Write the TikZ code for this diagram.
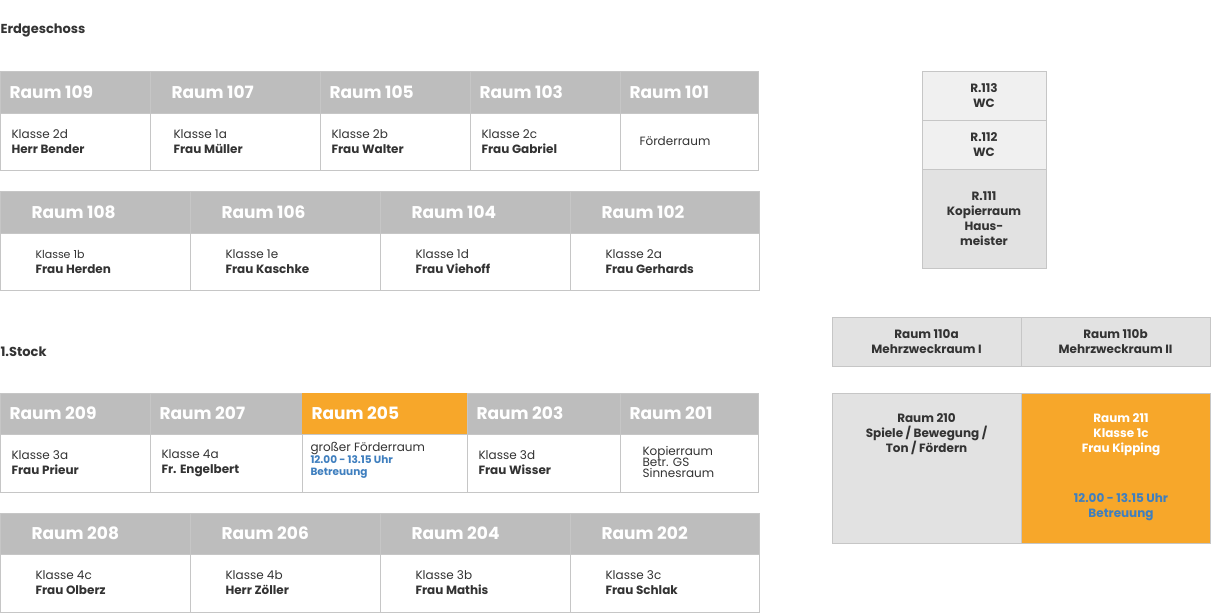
\documentclass[tikz,border=0pt]{standalone}
\usepackage{fontspec}
\setmainfont{Poppins}
\definecolor{kopf}{HTML}{BDBDBD}
\definecolor{rand}{HTML}{C6C6C6}
\definecolor{orange}{HTML}{F7A72A}
\definecolor{hell}{HTML}{E2E2E2}
\definecolor{hellwc}{HTML}{F0F0F0}
\definecolor{blau}{HTML}{3F7FBF}
\definecolor{text}{HTML}{333333}
\tikzset{
  kopfzeile/.style={fill=kopf,draw=rand,line width=0.8pt},
  zelle/.style={fill=white,draw=rand,line width=0.8pt},
  kopftext/.style={anchor=west,text=white,font=\fontsize{17}{19}\selectfont\bfseries},
  zelltext/.style={anchor=west,text=text,align=left,font=\fontsize{12}{15}\selectfont},
  block/.style={draw=rand,line width=0.8pt,text=text,align=center,font=\fontsize{12}{15}\selectfont\bfseries},
  etage/.style={anchor=west,text=text,font=\fontsize{13}{15}\selectfont\bfseries}
}
% Raum: name, x1, x2, y oben, y Kopfende, y unten, Textversatz, Kopf, Inhalt
\newcommand{\raum}[9]{%
  \fill[kopfzeile] (#2,#4) rectangle (#3,#5);
  \draw[zelle] (#2,#5) rectangle (#3,#6);
  \node[kopftext] (k#1) at (#2+#7,{(#4+#5)/2}) {#8};
  \node[zelltext] (z#1) at (#2+8,{(#5+#6)/2}) {#9};
}
\begin{document}
\begin{tikzpicture}[x=1pt,y=-1pt]
\useasboundingbox (0,0) rectangle (1211,613);

\node[etage] (eg) at (-3,30) {Erdgeschoss};
\node[etage] (og) at (-3,352) {1.Stock};

% Erdgeschoss, vordere Reihe
\raum{109}{0}{150}{71}{113}{170}{6}{Raum 109}{Klasse 2d\\\textbf{Herr Bender}}
\raum{107}{150}{320}{71}{113}{170}{18}{Raum 107}{\hspace*{12pt}Klasse 1a\\\hspace*{12pt}\textbf{Frau Müller}}
\raum{105}{320}{470}{71}{113}{170}{6}{Raum 105}{Klasse 2b\\\textbf{Frau Walter}}
\raum{103}{470}{620}{71}{113}{170}{6}{Raum 103}{Klasse 2c\\\textbf{Frau Gabriel}}
\raum{101}{620}{758}{71}{113}{170}{6}{Raum 101}{\hspace*{8pt}Förderraum}

% Erdgeschoss, hintere Reihe
\raum{108}{0}{190}{191}{233}{290}{28}{Raum 108}{\hspace*{24pt}{\fontsize{11}{13}\selectfont Klasse 1b}\\\hspace*{24pt}\textbf{Frau Herden}}
\raum{106}{190}{380}{191}{233}{290}{28}{Raum 106}{\hspace*{24pt}Klasse 1e\\\hspace*{24pt}\textbf{Frau Kaschke}}
\raum{104}{380}{570}{191}{233}{290}{28}{Raum 104}{\hspace*{24pt}Klasse 1d\\\hspace*{24pt}\textbf{Frau Viehoff}}
\raum{102}{570}{759}{191}{233}{290}{28}{Raum 102}{\hspace*{24pt}Klasse 2a\\\hspace*{24pt}\textbf{Frau Gerhards}}

% 1.Stock, vordere Reihe
\raum{209}{0}{150}{393}{434}{492}{6}{Raum 209}{Klasse 3a\\\textbf{Frau Prieur}}
\raum{207}{150}{302}{393}{434}{492}{6}{Raum 207}{Klasse 4a\\\textbf{Fr. Engelbert}}
\raum{205}{302}{467}{393}{434}{492}{6}{Raum 205}{\hspace*{-3pt}\smash{\begin{tabular}[c]{@{}l@{}}großer Förderraum\\[-3pt]
  {\color{blau}\fontsize{10.5}{12}\selectfont\bfseries 12.00 - 13.15 Uhr}\\[-3pt]
  {\color{blau}\fontsize{10.5}{12}\selectfont\bfseries Betreuung}\end{tabular}}}
\fill[orange] (302.4,393.4) rectangle (466.6,433.6);
\node[kopftext] (k205b) at (308,413.5) {Raum 205};
\raum{203}{467}{620}{393}{434}{492}{6}{Raum 203}{Klasse 3d\\\textbf{Frau Wisser}}
\raum{201}{620}{758}{393}{434}{492}{6}{Raum 201}{\hspace*{11pt}\begin{tabular}[c]{@{}l@{}}Kopierraum\\[-4pt]Betr. GS\\[-4pt]Sinnesraum\end{tabular}}

% 1.Stock, hintere Reihe
\raum{208}{0}{190}{513}{554}{612}{28}{Raum 208}{\hspace*{24pt}Klasse 4c\\\hspace*{24pt}\textbf{Frau Olberz}}
\raum{206}{190}{380}{513}{554}{612}{28}{Raum 206}{\hspace*{24pt}Klasse 4b\\\hspace*{24pt}\textbf{Herr Zöller}}
\raum{204}{380}{570}{513}{554}{612}{28}{Raum 204}{\hspace*{24pt}Klasse 3b\\\hspace*{24pt}\textbf{Frau Mathis}}
\raum{202}{570}{759}{513}{554}{612}{28}{Raum 202}{\hspace*{24pt}Klasse 3c\\\hspace*{24pt}\textbf{Frau Schlak}}

% Nebenräume rechts
\draw[block,fill=hellwc] (922,71) rectangle (1046,120) node[midway] (r113) {R.113\\WC};
\draw[block,fill=hellwc] (922,120) rectangle (1046,169) node[midway] (r112) {R.112\\WC};
\draw[block,fill=hell] (922,169) rectangle (1046,268) node[midway] (r111) {R.111\\Kopierraum\\Haus-\\meister};
\draw[block,fill=hell] (832,317) rectangle (1021,366) node[midway] (r110a) {Raum 110a\\Mehrzweckraum I};
\draw[block,fill=hell] (1021,317) rectangle (1210,366) node[midway] (r110b) {Raum 110b\\Mehrzweckraum II};
\draw[block,fill=hell] (832,393) rectangle (1021,543);
\node[block,draw=none,anchor=north] (r210) at (926.5,410) {Raum 210\\Spiele / Bewegung /\\Ton / Fördern};
\draw[block,fill=orange] (1021,393) rectangle (1210,543);
\node[block,draw=none,anchor=north,text=white] (r211) at (1121,410) {Raum 211\\Klasse 1c\\Frau Kipping};
\node[block,draw=none,anchor=north,text=blau] (b211) at (1121,490) {12.00 - 13.15 Uhr\\Betreuung};
\end{tikzpicture}
\end{document}
